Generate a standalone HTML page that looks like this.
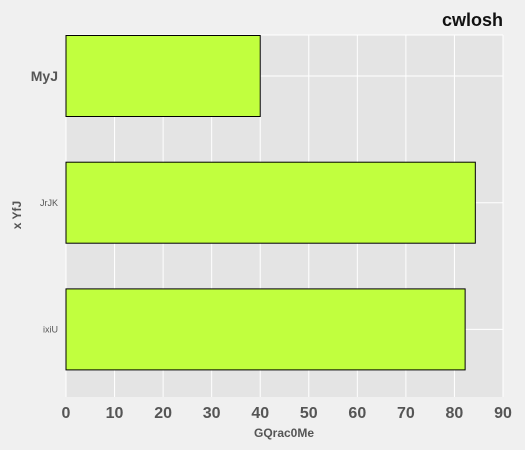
<!DOCTYPE html>
<html><head><meta charset="utf-8"><style>
body{margin:0;background:#f0f0f0;}
svg{display:block;font-family:"Liberation Sans",sans-serif;}
</style></head><body>
<svg id="c" width="525" height="450"></svg>
<script>
const categories = ["MyJ", "JrJK", "ixiU"];
const values = [40, 84.3, 82.2];
const xTicks = [0,10,20,30,40,50,60,70,80,90];
const labelSizes = [14, 9, 9];
const NS="http://www.w3.org/2000/svg";
const svg=document.getElementById('c');
const L=66,R=503,T=35,B=397;
const x=v=>L+(v-0)/(90-0)*(R-L);
const yc=i=>76+i*126.7;
const bh=81;
function mk(tag,attrs,parent){const e=document.createElementNS(NS,tag);for(const k in attrs)e.setAttribute(k,attrs[k]);(parent||svg).appendChild(e);return e;}
const bg=mk('rect',{x:L,y:T,width:R-L,height:B-T,fill:'#e4e4e4'});


const topBorder=mk('line',{x1:L,x2:R,y1:T,y2:T,stroke:'#fff','stroke-width':1});


xTicks.forEach(t=>{
  const g=mk('line',{x1:x(t),x2:x(t),y1:T,y2:B,stroke:'#fff','stroke-width':1});
  
  
  const tl=mk('text',{x:x(t),y:418,'text-anchor':'middle','font-size':16,'font-weight':'bold',fill:'#555'});
  tl.textContent=t;
  
  
});
categories.forEach((c,i)=>{
  const g=mk('line',{x1:L,x2:R,y1:yc(i),y2:yc(i),stroke:'#fff','stroke-width':1});
  
  
  const r=mk('rect',{x:x(0),y:yc(i)-bh/2,width:x(values[i])-x(0),height:bh,fill:'#c1ff3e',stroke:'#000','stroke-width':1});
  
  
  const t=mk('text',{x:58,y:yc(i)+labelSizes[i]*0.35,'text-anchor':'end','font-size':labelSizes[i],'font-weight':labelSizes[i]>10?'bold':'normal',fill:'#555'});
  t.textContent=c;
  
  
});
</script>
<script>
(function(){
const s=document.getElementById('c');const NS="http://www.w3.org/2000/svg";
function t(x,y,txt,size,name,extra){const e=document.createElementNS(NS,'text');e.setAttribute('x',x);e.setAttribute('y',y);e.setAttribute('font-size',size);e.setAttribute('font-weight','bold');e.setAttribute('fill',name==='chart-title'?'#111':'#555');for(const k in extra)e.setAttribute(k,extra[k]);e.textContent=txt;s.appendChild(e);return e;}
const a=t(503,26,'cwlosh',18,'chart-title',{'text-anchor':'end'});


const b=t(284,437,'GQrac0Me',12,'x-axis-title',{'text-anchor':'middle'});


const c=t(21,215,'x YfJ',12,'y-axis-title',{'text-anchor':'middle',transform:'rotate(-90 21 215)'});


})();
</script>
</body></html>
